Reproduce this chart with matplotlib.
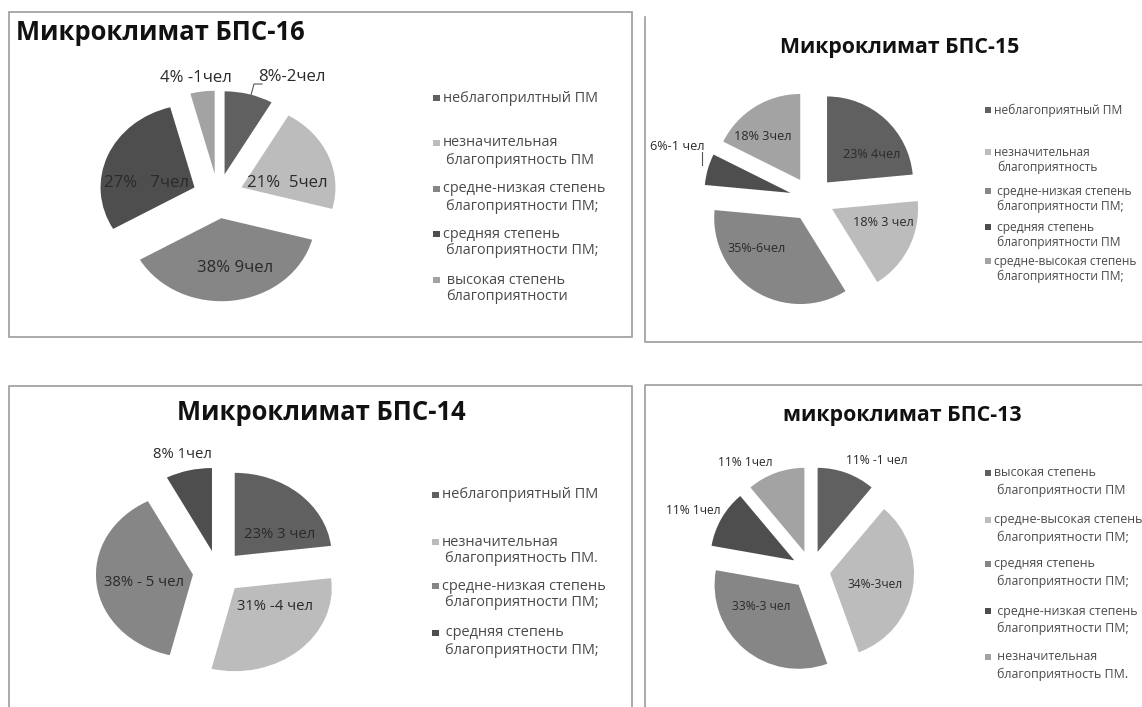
import matplotlib
matplotlib.use("Agg")
import matplotlib.pyplot as plt
from matplotlib.patches import Rectangle

# ---------------- data ----------------
colors = ["#606060", "#bcbcbc", "#868686", "#4e4e4e", "#a3a3a3"]

bps16_title = "Микроклимат БПС-16"
bps16_categories = ["неблагоприлтный ПМ", "незначительная\nблагоприятность ПМ",
                    "средне-низкая степень\nблагоприятности ПМ;",
                    "средняя степень\nблагоприятности ПМ;", " высокая степень\nблагоприятности"]
bps16_counts = [2, 5, 9, 7, 1]
bps16_labels = ["8%-2чел", "21%  5чел", "38% 9чел", "27%   7чел", "4% -1чел"]

bps15_title = "Микроклимат БПС-15"
bps15_categories = ["неблагоприятный ПМ", "незначительная\nблагоприятность",
                    " средне-низкая степень\nблагоприятности ПМ;",
                    " средняя степень\nблагоприятности ПМ", "средне-высокая степень\nблагоприятности ПМ;"]
bps15_counts = [4, 3, 6, 1, 3]
bps15_labels = ["23% 4чел", "18% 3 чел", "35%-6чел", "6%-1 чел", "18% 3чел"]

bps14_title = "Микроклимат БПС-14"
bps14_categories = ["неблагоприятный ПМ", "незначительная\nблагоприятность ПМ.",
                    "средне-низкая степень\nблагоприятности ПМ;", " средняя степень\nблагоприятности ПМ;"]
bps14_counts = [3, 4, 5, 1]
bps14_labels = ["23% 3 чел", "31% -4 чел", "38% - 5 чел", "8% 1чел"]

bps13_title = "микроклимат БПС-13"
bps13_categories = ["высокая степень\nблагоприятности ПМ", "средне-высокая степень\nблагоприятности ПМ;",
                    "средняя степень\nблагоприятности ПМ;", " средне-низкая степень\nблагоприятности ПМ;",
                    " незначительная\nблагоприятность ПМ."]
bps13_counts = [1, 3, 3, 1, 1]
bps13_labels = ["11% -1 чел", "34%-3чел", "33%-3 чел", "11% 1чел", "11% 1чел"]

# ---------------- layout (pixels) ----------------
W, H = 1142, 707
plt.rcParams["font.family"] = ["Open Sans", "DejaVu Sans"]
fig = plt.figure(figsize=(W / 100, H / 100), dpi=100)
fig.patch.set_facecolor("white")

LEG_REF = "благоприятности ПМ;"

panels = [
    dict(title=bps16_title, cats=bps16_categories, vals=bps16_counts, labs=bps16_labels,
         title_xy=(16, 32), title_ha="left", title_w=290,
         center=(218, 196), rx=94, ry=83, explode=0.27,
         lab_xy=[(292, 77), (287, 183), (235, 268), (146, 183), (196, 78)], lab_ref=3, lab_w=85,
         leg_sx=433, leg_tx=443, leg_y=[98, 143, 189, 234, 280], leg_gap=17, leg_w=152, sq=(7, 6)),
    dict(title=bps15_title, cats=bps15_categories, vals=bps15_counts, labs=bps15_labels,
         title_xy=(900, 48), title_ha="center", title_w=240,
         center=(812, 199), rx=86, ry=86, explode=0.26,
         lab_xy=[(872, 155), (883, 223), (757, 248), (677, 147), (763, 137)], lab_ref=0, lab_w=57,
         leg_sx=985, leg_tx=994, leg_y=[110, 152, 191, 227, 261], leg_gap=15, leg_w=127, sq=(6, 6)),
    dict(title=bps14_title, cats=bps14_categories, vals=bps14_counts, labs=bps14_labels,
         title_xy=(321, 413), title_ha="center", title_w=290,
         center=(218, 572), rx=97, ry=83, explode=0.26,
         lab_xy=[(280, 534), (275, 607), (144, 582), (182, 455)], lab_ref=2, lab_w=80,
         leg_sx=432, leg_tx=442, leg_y=[495, 542, 586, 633], leg_gap=17, leg_w=154, sq=(7, 6)),
    dict(title=bps13_title, cats=bps13_categories, vals=bps13_counts, labs=bps13_labels,
         title_xy=(902, 415), title_ha="center", title_w=240,
         center=(811, 570), rx=84, ry=84, explode=0.23,
         lab_xy=[(877, 461), (875, 584), (761, 606), (693, 510), (745, 463)], lab_ref=0, lab_w=62,
         leg_sx=985, leg_tx=994, leg_y=[473, 520, 564, 611, 657], leg_gap=17, leg_w=131, sq=(6, 6)),
]

# overlay axes in pixel coordinates
ov = fig.add_axes([0, 0, 1, 1], zorder=10)
ov.set_xlim(0, W)
ov.set_ylim(H, 0)
ov.axis("off")
ov.patch.set_alpha(0)
renderer = fig.canvas.get_renderer()


def fit_size(s, target, weight="normal"):
    t = ov.text(0, 0, s, fontsize=10, fontweight=weight)
    w = t.get_window_extent(renderer=renderer).width
    t.remove()
    return 10.0 * target / w


# borders
bc = "#9c9c9c"
ov.add_patch(Rectangle((9, 12), 623, 325, fill=False, ec=bc, lw=1.2))
ov.plot([645, 645, 1142], [17, 342, 342], color=bc, lw=1.2)
ov.plot([9, 9, 632, 632], [707, 386, 386, 707], color=bc, lw=1.2)
ov.plot([645, 645, 1142], [707, 385, 385], color=bc, lw=1.2)

for p in panels:
    cx, cy = p["center"]
    rx, ry = p["rx"], p["ry"]
    k = 1.5
    ax = fig.add_axes([(cx - k * rx) / W, 1 - (cy + k * ry) / H, 2 * k * rx / W, 2 * k * ry / H])
    n = len(p["vals"])
    ax.pie(p["vals"], explode=[p["explode"]] * n, colors=colors[:n], startangle=90,
           counterclock=False, wedgeprops=dict(linewidth=0))
    ax.set_aspect("auto")
    ax.set_xlim(-k, k)
    ax.set_ylim(-k, k)
    ax.axis("off")

    # title
    fs = fit_size(p["title"], p["title_w"], "bold")
    ov.text(p["title_xy"][0], p["title_xy"][1], p["title"], fontsize=fs, fontweight="bold",
            ha=p["title_ha"], va="center", color="#111111")

    # data labels
    lfs = fit_size(p["labs"][p["lab_ref"]], p["lab_w"])
    for s, (x, y) in zip(p["labs"], p["lab_xy"]):
        ov.text(x, y, s, fontsize=lfs, ha="center", va="center", color="#2a2a2a")

    # legend
    gfs = fit_size(LEG_REF, p["leg_w"])
    sw, sh = p["sq"]
    for i, (cat, y) in enumerate(zip(p["cats"], p["leg_y"])):
        ov.add_patch(Rectangle((p["leg_sx"], y - sh / 2), sw, sh, color=colors[i], lw=0))
        for j, line in enumerate(cat.split("\n")):
            ov.text(p["leg_tx"] + (3 if j else 0), y + j * p["leg_gap"], line,
                    fontsize=gfs, ha="left", va="center", color="#4a4a4a")

# leader lines
ov.plot([262, 254, 251], [84, 84, 95], color="#555555", lw=0.8)
ov.plot([702, 702], [152, 165], color="#555555", lw=0.8)

fig.savefig("out.png", dpi=100)
